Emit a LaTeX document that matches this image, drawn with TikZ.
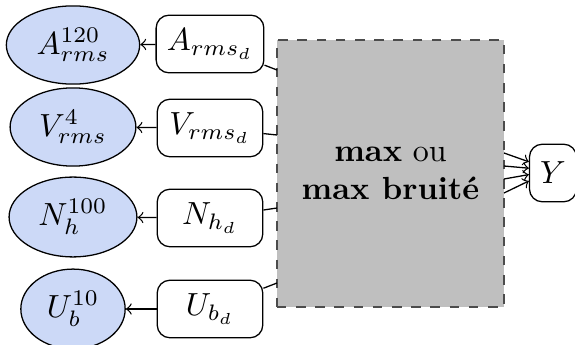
\documentclass[tikz,border=0pt]{standalone}
\usepackage{amsmath}
\usetikzlibrary{shapes.geometric,arrows}
\definecolor{obsblue}{RGB}{204,217,247}
\tikzset{
  obs/.style={ellipse,draw,fill=obsblue},
  dbox/.style={draw,rounded corners,minimum width=33pt,minimum height=18pt},
}
\begin{document}
\begin{tikzpicture}[x=0.3125pt,y=-0.3125pt]
\useasboundingbox (0,0) rectangle (575,345);
% observed quantities
\node[obs] (Aobs) at (73,45) {$A_{rms}^{120}$};
\node[obs] (Vobs) at (73,127) {$V_{rms}^{4}$};
\node[obs] (Nobs) at (73,217) {$N_{h}^{100}$};
\node[obs] (Uobs) at (73,309) {$U_{b}^{10}$};
% deterministic boxes
\node[dbox] (Ad) at (210,44) {$A_{rms_d}$};
\node[dbox] (Vd) at (210,128) {$V_{rms_d}$};
\node[dbox] (Nd) at (210,218) {$N_{h_d}$};
\node[dbox] (Ud) at (210,309) {$U_{b_d}$};
\node[draw=black!70,dashed,fill=gray!50,minimum width=71pt,minimum height=83.4pt,align=center] (max) at (390.5,173.5)
  {\textbf{max} ou\\\textbf{max bruit\'e}};
\node[draw,rounded corners,minimum height=18pt] (Y) at (553,173) {$Y$};
\coordinate (m1) at (277,70);
\coordinate (m2) at (277,135);
\coordinate (m3) at (277,208);
\coordinate (m4) at (277,283);
\coordinate (o1) at (504,153);
\coordinate (o2) at (504,166);
\coordinate (o3) at (504,179);
\coordinate (o4) at (504,193);
\draw[->] (Ad) -- (Aobs);
\draw[->] (Vd) -- (Vobs);
\draw[->] (Nd) -- (Nobs);
\draw[->] (Ud) -- (Uobs);
\draw (Ad) -- (m1) (Vd) -- (m2) (Nd) -- (m3) (Ud) -- (m4);
\draw[->] (o1) -- ([yshift=3.5pt]Y.west);
\draw[->] (o2) -- ([yshift=1.5pt]Y.west);
\draw[->] (o3) -- ([yshift=-0.5pt]Y.west);
\draw[->] (o4) -- ([yshift=-2.5pt]Y.west);
\end{tikzpicture}
\end{document}
